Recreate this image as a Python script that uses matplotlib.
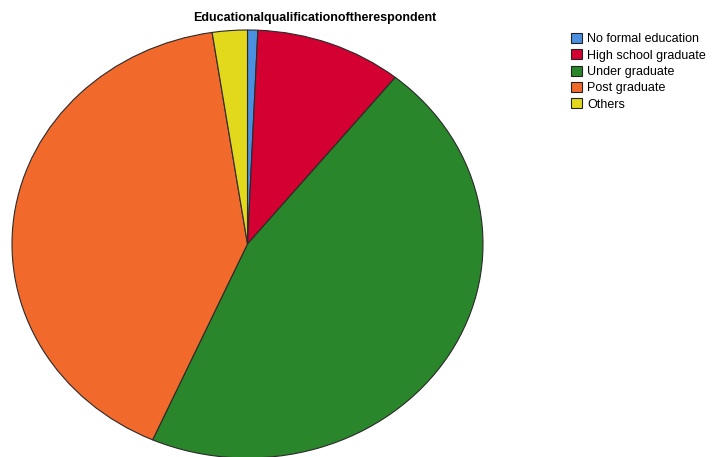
import matplotlib
matplotlib.use("Agg")
import matplotlib.pyplot as plt

plt.rcParams["font.family"] = ["Liberation Sans", "DejaVu Sans"]

# ── Data ────────────────────────────────────────────────────────────────────
CATEGORIES = ["No formal education", "High school graduate", "Under graduate",
              "Post graduate", "Others"]
PERCENTS = [0.7, 10.1, 45.8, 41.0, 2.4]
COLORS = ["#4a8fe0", "#d50032", "#2a862a", "#f2692c", "#e2d81c"]
TITLE = "Educationalqualificationoftherespondent"

W, H = 713, 457
fig = plt.figure(figsize=(W / 100, H / 100), dpi=100)

# pie ellipse spans x 12..483, y 30..458 (pixels from top)
ax = fig.add_axes([12 / W, (H - 458) / H, 471 / W, 428 / H])
wedges, _ = ax.pie(PERCENTS, colors=COLORS, startangle=90, counterclock=False,
                   radius=1.0,
                   wedgeprops=dict(edgecolor="#2a2a2a", linewidth=0.8))
ax.set_aspect("auto")
ax.set_xlim(-1.0, 1.0)
ax.set_ylim(-1.0, 1.0)
ax.axis("off")

fig.text(315 / W, 1 - 18 / H, TITLE, ha="center", va="center",
         fontsize=9, fontweight="bold")

leg = fig.legend(wedges, CATEGORIES, loc="upper left",
                 bbox_to_anchor=(571 / W, 1 - 33 / H), frameon=False,
                 fontsize=9, handlelength=0.85, handleheight=0.85,
                 handletextpad=0.45, labelspacing=0.32, borderpad=0,
                 borderaxespad=0)
for p in leg.get_patches():
    p.set_edgecolor("#222222")
    p.set_linewidth(0.8)

fig.savefig("out.png", dpi=100)
